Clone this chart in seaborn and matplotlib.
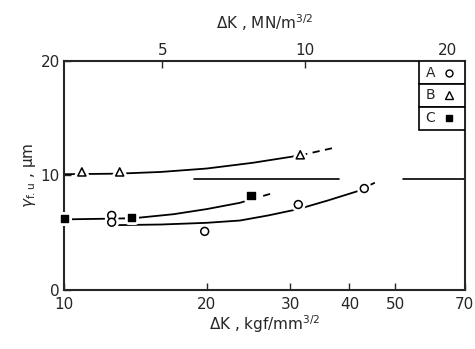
import matplotlib
matplotlib.use("Agg")
import matplotlib.pyplot as plt
import matplotlib.patheffects as pe
import seaborn as sns

# measured points (dK in kgf/mm^3/2, gamma in um)
a_x = [12.6, 12.6, 19.8, 31.2, 43.0]
a_y = [6.5, 5.9, 5.1, 7.45, 8.85]
b_x = [10.9, 13.1, 31.5]
b_y = [10.3, 10.3, 11.8]
c_x = [10.0, 13.9, 24.8]
c_y = [6.2, 6.3, 8.2]

# hand drawn trend curves (solid part + dashed tail)
a_fit_x = [13.0, 16.0, 20.0, 23.5, 27.0, 31.2, 36.0, 41.5]
a_fit_y = [5.65, 5.7, 5.85, 6.05, 6.5, 7.05, 7.8, 8.6]
a_tail_x = [41.5, 46.0]
a_tail_y = [8.6, 9.5]
b_fit_x = [10.0, 13.0, 16.0, 20.0, 25.0, 31.5]
b_fit_y = [10.1, 10.15, 10.3, 10.6, 11.1, 11.75]
b_tail_x = [31.5, 37.0]
b_tail_y = [11.75, 12.4]
c_fit_x = [10.0, 12.0, 14.0, 17.0, 20.0, 23.5, 24.8]
c_fit_y = [6.15, 6.2, 6.25, 6.6, 7.05, 7.6, 7.9]
c_tail_x = [24.8, 27.6]
c_tail_y = [7.9, 8.45]
ref_x1 = [18.8, 38.0]
ref_x2 = [52.0, 70.0]
ref_y = [9.7, 9.7]

xticks = [10, 20, 30, 40, 50, 70]
top_ticks = [5, 10, 20]
yticks = [0, 10, 20]
legend_rows = [("A", "o", "white", 5), ("B", "^", "white", 6), ("C", "s", "black", 5)]

sns.set_theme(style="ticks")
plt.rcParams["font.family"] = ["DejaVu Sans"]
plt.rcParams["font.size"] = 11

f, ax = plt.subplots(figsize=(4.75, 3.49), dpi=100)
f.subplots_adjust(left=0.135, right=0.978, bottom=0.17, top=0.825)
ax.set_xscale("log")

halo = [pe.Stroke(linewidth=5, foreground="white"), pe.Normal()]

for fx, fy, tx, ty in [(a_fit_x, a_fit_y, a_tail_x, a_tail_y),
                       (b_fit_x, b_fit_y, b_tail_x, b_tail_y),
                       (c_fit_x, c_fit_y, c_tail_x, c_tail_y)]:
    sns.lineplot(x=fx, y=fy, sort=False, estimator=None, color="black", linewidth=1.3, ax=ax)
    ax.plot(tx, ty, color="black", linewidth=1.3, linestyle=(0, (4, 3)))

ax.plot(ref_x1, ref_y, color="black", linewidth=1.2)
ax.plot(ref_x2, ref_y, color="black", linewidth=1.2, clip_on=False)

sns.scatterplot(x=a_x, y=a_y, marker="o", s=32, facecolor="white", edgecolor="black",
                linewidth=1.1, ax=ax, zorder=5, path_effects=halo, clip_on=False)
sns.scatterplot(x=b_x, y=b_y, marker="^", s=34, facecolor="white", edgecolor="black",
                linewidth=1.1, ax=ax, zorder=5, path_effects=halo, clip_on=False)
sns.scatterplot(x=c_x, y=c_y, marker="s", s=26, facecolor="black", edgecolor="black",
                linewidth=1.0, ax=ax, zorder=5, path_effects=halo, clip_on=False)

ax.set_xlim(10, 70)
ax.set_ylim(0, 20)
ax.set_xticks(xticks)
ax.set_xticklabels([str(t) for t in xticks])
ax.minorticks_off()
ax.set_yticks(yticks)
ax.tick_params(direction="in", length=5, width=1.0, labelsize=11)
ax.tick_params(axis="x", pad=5)
ax.tick_params(axis="y", pad=3)
for s in ax.spines.values():
    s.set_linewidth(1.5)

ax.set_xlabel(r"$\mathit{\Delta}$K , kgf/mm$^{3/2}$", fontsize=11, labelpad=1)
ax.set_ylabel(r"$\gamma_{\rm f.u}$ , μm", fontsize=11, labelpad=2)

sec = ax.secondary_xaxis("top", functions=(lambda k: k * 0.3102, lambda m: m / 0.3102))
sec.set_xticks(top_ticks)
sec.set_xticklabels([str(t) for t in top_ticks])
sec.minorticks_off()
sec.tick_params(direction="in", length=5, width=1.0, labelsize=11, pad=2)
sec.set_xlabel(r"$\mathit{\Delta}$K , MN/m$^{3/2}$", fontsize=11, labelpad=10)

# boxed key at the upper right
row_h = 0.1
x0 = 0.885
for i, (lab, mk, fc, ms) in enumerate(legend_rows):
    y_top = 1.0 - i * row_h
    ax.add_patch(plt.Rectangle((x0, y_top - row_h), 1.0 - x0, row_h, transform=ax.transAxes,
                               facecolor="white", edgecolor="black", linewidth=1.2, zorder=6))
    ax.text(x0 + 0.018, y_top - row_h / 2, lab, transform=ax.transAxes, fontsize=10,
            va="center", ha="left", zorder=7)
    ax.plot([x0 + 0.075], [y_top - row_h / 2], marker=mk, markersize=ms, markerfacecolor=fc,
            markeredgecolor="black", markeredgewidth=1.0, transform=ax.transAxes, zorder=7)

f.savefig("out.png", dpi=100)
